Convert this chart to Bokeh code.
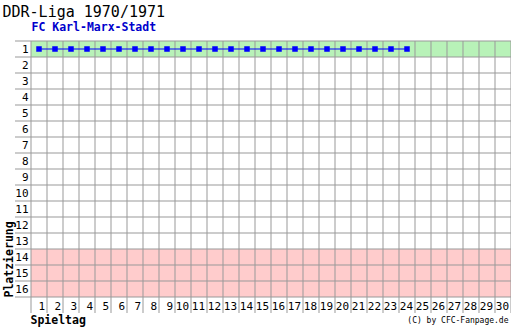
from bokeh.plotting import figure
from bokeh.models import Range1d, Label
from bokeh.core.properties import value
from bokeh.embed import file_html
from bokeh.resources import INLINE

title = "DDR-Liga 1970/1971"
team = "FC Karl-Marx-Stadt"
credit = "(C) by CFC-Fanpage.de"
x_title = "Spieltag"
y_title = "Platzierung"

spieltage = list(range(1, 31))
plaetze = list(range(1, 17))
played = list(range(1, 25))
platz = [1] * 24
green_rows = [1]
red_rows = [14, 15, 16]

n_cols = len(spieltage)
n_rows = len(plaetze)

p = figure(width=511, height=327, output_backend="svg", toolbar_location=None,
           x_range=Range1d(-30.5 / 16, (511 - 30.5) / 16),
           y_range=Range1d(0.5 + 286.5 / 16, 0.5 - 40.5 / 16),
           min_border=0, min_border_left=0, min_border_right=0,
           min_border_top=0, min_border_bottom=0)
p.axis.visible = False
p.grid.visible = False
p.outline_line_color = None
p.background_fill_color = "white"
p.border_fill_color = "white"

mono = value("DejaVu Sans Mono")

# zones
p.quad(left=0, right=n_cols, bottom=[r + 0.5 for r in green_rows], top=[r - 0.5 for r in green_rows],
       fill_color="#b8f2b8", line_color=None)
p.quad(left=0, right=n_cols, bottom=[r + 0.5 for r in red_rows], top=[r - 0.5 for r in red_rows],
       fill_color="#ffcccc", line_color=None)

# grid
vx = list(range(0, n_cols + 1))
p.segment(x0=vx, x1=vx, y0=0.5, y1=n_rows + 1.5, line_color="#999999", line_width=1)
hy = [r + 0.5 for r in range(0, n_rows + 1)]
p.segment(x0=-1.0, x1=n_cols, y0=hy, y1=hy, line_color="#999999", line_width=1)

# line
xs = [s - 0.5 for s in played]
p.line(xs, platz, line_color="#0000ff", line_width=1)
p.scatter(xs, platz, marker="square", size=5, fill_color="#0000ff", line_color="#0000ff", line_width=0.5)

# tick labels
p.text(x=[float(s) for s in spieltage], y=n_rows + 1, text=[str(s) for s in spieltage],
       text_align="right", text_baseline="middle", x_offset=-2, y_offset=1,
       text_font=mono, text_font_size="11px", text_color="black")
p.text(x=0, y=plaetze, text=[str(r) for r in plaetze],
       text_align="right", text_baseline="middle", x_offset=-2.5, y_offset=0,
       text_font=mono, text_font_size="11px", text_color="black")

H = 327
p.add_layout(Label(x=2, y=H - 11, x_units="screen", y_units="screen", text=title,
                   text_font="DejaVu Sans Mono", text_font_size="15px", text_baseline="middle",
                   text_color="black"))
p.add_layout(Label(x=31, y=H - 26, x_units="screen", y_units="screen", text=team,
                   text_font="DejaVu Sans Mono", text_font_size="11.5px", text_font_style="bold",
                   text_baseline="middle", text_color="#0000cc"))
p.add_layout(Label(x=30, y=H - 319, x_units="screen", y_units="screen", text=x_title,
                   text_font="DejaVu Sans Mono", text_font_size="11.5px", text_font_style="bold",
                   text_baseline="middle", text_color="black"))
p.add_layout(Label(x=8, y=H - 297, x_units="screen", y_units="screen", text=y_title,
                   text_font="DejaVu Sans Mono", text_font_size="11.5px", text_font_style="bold",
                   text_baseline="middle", text_align="left", angle=1.5707963, text_color="black"))
p.add_layout(Label(x=508, y=H - 320, x_units="screen", y_units="screen", text=credit,
                   text_font="DejaVu Sans Mono", text_font_size="8px",
                   text_baseline="middle", text_align="right", text_color="black"))

open("out.html", "w").write(file_html(p, INLINE))
